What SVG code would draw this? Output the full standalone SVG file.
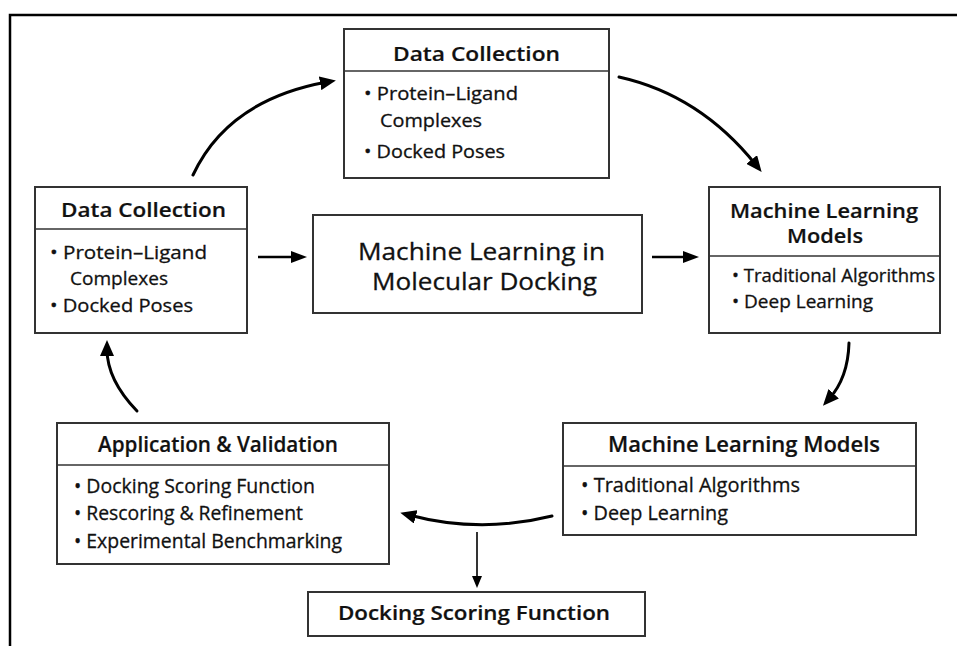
<svg xmlns="http://www.w3.org/2000/svg" width="957" height="646" viewBox="0 0 957 646">
  <style>
    .box { fill: #ffffff; stroke: #333333; stroke-width: 2; }
    .div { stroke: #333333; stroke-width: 1.6; }
    text { font-family: "Open Sans", "Noto Sans", "DejaVu Sans", sans-serif; fill: #111111; stroke: #111111; stroke-width: 0.3; }
    .t { font-weight: 600; stroke-width: 0.2; }
    .frame { stroke: #000000; stroke-width: 2.5; fill: none; }
    .curve { fill: none; stroke: #000000; stroke-width: 3; stroke-linecap: round; }
    .straight { fill: none; stroke: #000000; stroke-width: 2.5; }
    .thin { fill: none; stroke: #000000; stroke-width: 1.6; }
  </style>
  <defs>
    <marker id="head" markerUnits="userSpaceOnUse" markerWidth="16" markerHeight="14" refX="7" refY="7" orient="auto">
      <path d="M0,0 L16,7 L0,14 z" fill="#000000"/>
    </marker>
    <marker id="headS" markerUnits="userSpaceOnUse" markerWidth="16" markerHeight="12" refX="6" refY="6" orient="auto">
      <path d="M0,0 L16,6 L0,12 z" fill="#000000"/>
    </marker>
    <marker id="headT" markerUnits="userSpaceOnUse" markerWidth="12" markerHeight="10" refX="4" refY="5" orient="auto">
      <path d="M0,0 L12,5 L0,10 z" fill="#000000"/>
    </marker>
  </defs>

  <rect width="957" height="646" fill="#ffffff"/>

  <!-- outer frame: top and left edges only -->
  <path class="frame" d="M10,646 L10,15 L957,15"/>

  <g id="connectors">
    <path class="curve" d="M193,175 Q228,100 327,82" marker-end="url(#head)"/>
    <path class="curve" d="M619,77 Q700,95 756,165" marker-end="url(#head)"/>
    <path class="straight" d="M258,257 L297,257" marker-end="url(#headS)"/>
    <path class="straight" d="M652,257 L689,257" marker-end="url(#headS)"/>
    <path class="curve" d="M849,343 Q848,378 829,399" marker-end="url(#head)"/>
    <path class="curve" d="M552,516 Q480,534 409,515" marker-end="url(#head)"/>
    <path class="thin" d="M477,532 L477,580" marker-end="url(#headT)"/>
    <path class="curve" d="M137,411 Q107,380 107,349" marker-end="url(#head)"/>
  </g>

  <g id="data-collection-top">
    <rect class="box" x="344" y="29" width="265" height="149"/>
    <line class="div" x1="344" y1="71" x2="609" y2="71"/>
    <text class="t" x="393" y="61" font-size="20" textLength="167" lengthAdjust="spacingAndGlyphs">Data Collection</text>
    <text x="364" y="100" font-size="18" textLength="154" lengthAdjust="spacingAndGlyphs">• Protein–Ligand</text>
    <text x="380" y="127" font-size="18" textLength="102" lengthAdjust="spacingAndGlyphs">Complexes</text>
    <text x="364" y="158" font-size="18" textLength="141" lengthAdjust="spacingAndGlyphs">• Docked Poses</text>
  </g>

  <g id="data-collection-left">
    <rect class="box" x="35" y="187" width="212" height="146"/>
    <line class="div" x1="35" y1="229" x2="247" y2="229"/>
    <text class="t" x="61" y="217" font-size="19" textLength="165" lengthAdjust="spacingAndGlyphs">Data Collection</text>
    <text x="50" y="259" font-size="19" textLength="157" lengthAdjust="spacingAndGlyphs">• Protein–Ligand</text>
    <text x="70" y="285" font-size="19" textLength="98" lengthAdjust="spacingAndGlyphs">Complexes</text>
    <text x="50" y="312" font-size="19" textLength="143" lengthAdjust="spacingAndGlyphs">• Docked Poses</text>
  </g>

  <g id="ml-docking">
    <rect class="box" x="313" y="215" width="329" height="98"/>
    <text x="358" y="260" font-size="24" textLength="247" lengthAdjust="spacingAndGlyphs">Machine Learning in</text>
    <text x="372" y="290" font-size="24" textLength="225" lengthAdjust="spacingAndGlyphs">Molecular Docking</text>
  </g>

  <g id="ml-models-right">
    <rect class="box" x="709" y="187" width="231" height="146"/>
    <line class="div" x1="709" y1="256" x2="940" y2="256"/>
    <text class="t" x="730" y="218" font-size="19" textLength="188" lengthAdjust="spacingAndGlyphs">Machine Learning</text>
    <text class="t" x="787" y="243" font-size="19" textLength="76" lengthAdjust="spacingAndGlyphs">Models</text>
    <text x="732" y="282" font-size="18" textLength="203" lengthAdjust="spacingAndGlyphs">• Traditional Algorithms</text>
    <text x="732" y="308" font-size="18" textLength="141" lengthAdjust="spacingAndGlyphs">• Deep Learning</text>
  </g>

  <g id="ml-models-bottom">
    <rect class="box" x="563" y="423" width="353" height="112"/>
    <line class="div" x1="563" y1="466" x2="916" y2="466"/>
    <text class="t" x="608" y="452" font-size="21" textLength="272" lengthAdjust="spacingAndGlyphs">Machine Learning Models</text>
    <text x="581" y="492" font-size="20" textLength="219" lengthAdjust="spacingAndGlyphs">• Traditional Algorithms</text>
    <text x="581" y="520" font-size="20" textLength="147" lengthAdjust="spacingAndGlyphs">• Deep Learning</text>
  </g>

  <g id="application-validation">
    <rect class="box" x="57" y="423" width="332" height="141"/>
    <line class="div" x1="57" y1="465" x2="389" y2="465"/>
    <text class="t" x="98" y="452" font-size="21" textLength="240" lengthAdjust="spacingAndGlyphs">Application &amp; Validation</text>
    <text x="74" y="493" font-size="20" textLength="241" lengthAdjust="spacingAndGlyphs">• Docking Scoring Function</text>
    <text x="74" y="520" font-size="20" textLength="229" lengthAdjust="spacingAndGlyphs">• Rescoring &amp; Refinement</text>
    <text x="74" y="548" font-size="20" textLength="268" lengthAdjust="spacingAndGlyphs">• Experimental Benchmarking</text>
  </g>

  <g id="docking-scoring">
    <rect class="box" x="308" y="592" width="337" height="44"/>
    <text class="t" x="338" y="620" font-size="19" textLength="272" lengthAdjust="spacingAndGlyphs">Docking Scoring Function</text>
  </g>
</svg>
